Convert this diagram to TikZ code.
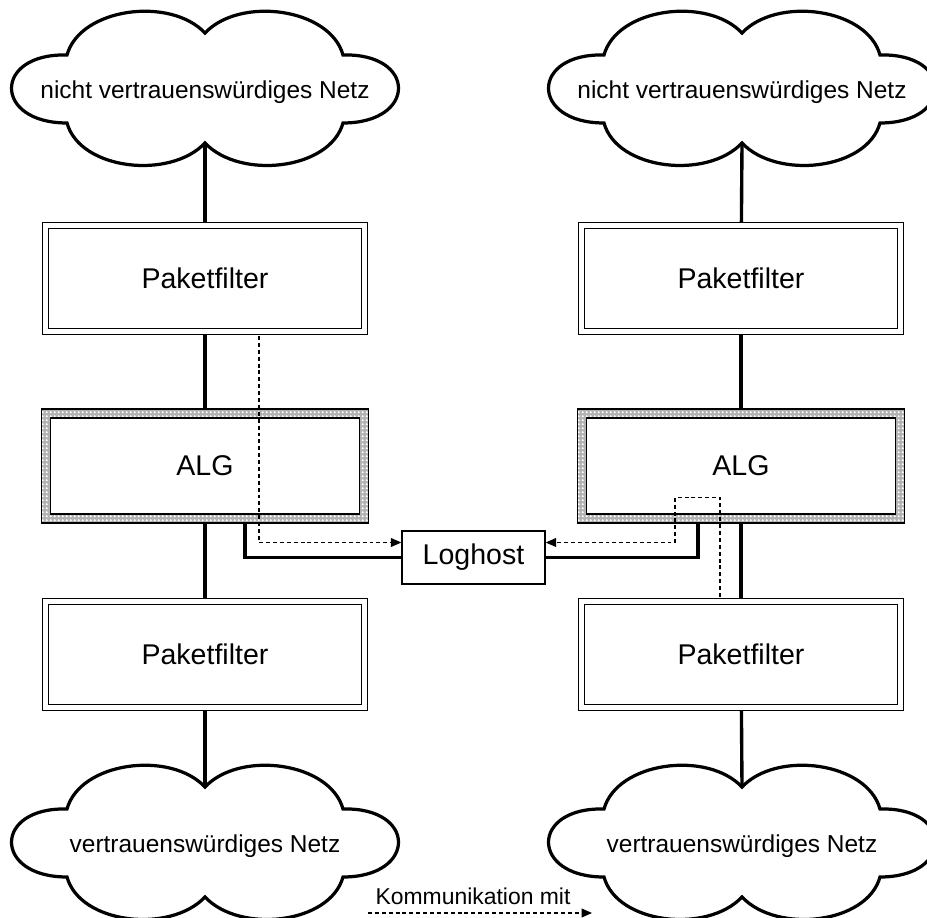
\documentclass[tikz,border=0pt]{standalone}
\usepackage{fontspec}
\setmainfont{Liberation Sans}
\usetikzlibrary{calc,patterns,backgrounds,arrows.meta}

% mesh for the ALG frame
\pgfdeclarepatternformonly{ringmuster}{\pgfpointorigin}{\pgfqpoint{3pt}{3pt}}{\pgfqpoint{3pt}{3pt}}{%
  \pgfpathcircle{\pgfqpoint{1.5pt}{1.5pt}}{0.95pt}%
  \pgfusepath{fill}}

\tikzset{
  filterbox/.style={draw, double, double distance=0.125cm, line width=0.75pt, fill=white,
    minimum width=7.975cm, minimum height=2.65cm, font=\fontsize{20.3}{24}\selectfont},
  algrahmen/.style={draw, line width=0.75pt, minimum width=8.15cm, minimum height=2.85cm,
    preaction={fill=gray!60}, pattern=ringmuster, pattern color=white},
  algkern/.style={draw, line width=0.75pt, fill=white, minimum width=7.7cm, minimum height=2.4cm,
    font=\fontsize{20.3}{24}\selectfont},
  loghostbox/.style={draw, line width=0.9pt, fill=white, minimum width=3.575cm, minimum height=1.325cm,
    font=\fontsize{20.3}{24}\selectfont},
  wolke/.style={draw, line width=2.3pt, fill=white},
  wolketext/.style={font=\fontsize{17.4}{20}\selectfont},
  leitung/.style={line width=2.4pt},
  meldung/.style={line width=0.8pt, dash pattern=on 2.8pt off 2.1pt,
    -{Triangle[length=0.26cm,width=0.22cm]}}
}

% cloud: name, x, y, text
\newcommand{\netzwolke}[4]{%
  \begin{scope}[shift={(#2,#3)}]
    \draw[wolke] (-138,-33) .. controls (-125,-80) and (-35,-92) .. (0,-55)
      .. controls (35,-92) and (125,-80) .. (138,-33)
      .. controls (212,-35) and (212,35) .. (138,35)
      .. controls (125,82) and (35,92) .. (0,55)
      .. controls (-35,92) and (-125,82) .. (-138,35)
      .. controls (-212,35) and (-212,-35) .. (-138,-33) -- cycle;
    \coordinate (#1-n) at (0,-55);
    \coordinate (#1-s) at (0,55);
    \node[wolketext] (#1) at (0,4) {#4};
  \end{scope}}

\begin{document}
\begin{tikzpicture}[x=0.025cm, y=-0.025cm]
    \useasboundingbox (0,0) rectangle (927,918);

    % Clouds
    \netzwolke{netzLo}{205}{88}{nicht vertrauenswürdiges Netz}
    \netzwolke{netzLu}{205}{842}{vertrauenswürdiges Netz}
    \netzwolke{netzRo}{742}{88}{nicht vertrauenswürdiges Netz}
    \netzwolke{netzRu}{742}{842}{vertrauenswürdiges Netz}

    % Left chain
    \node[filterbox] (pfLo) at (205,278.5) {Paketfilter};
    \node[algrahmen] (algL) at (205,466) {};
    \node[algkern] (algLk) at (205,466) {ALG};
    \node[filterbox] (pfLu) at (205,654.5) {Paketfilter};

    % Right chain
    \node[filterbox] (pfRo) at (741,278.5) {Paketfilter};
    \node[algrahmen] (algR) at (741,466) {};
    \node[algkern] (algRk) at (741,466) {ALG};
    \node[filterbox] (pfRu) at (741,654.5) {Paketfilter};

    % Loghost
    \node[loghostbox] (log) at (473.5,557.5) {Loghost};

    % Lines
    \begin{scope}[on background layer]
        \draw[leitung] (netzLo-s) -- (pfLo);
        \draw[leitung] (pfLo) -- (algL);
        \draw[leitung] (algL) -- (pfLu);
        \draw[leitung] (pfLu) -- (netzLu-n);
        \draw[leitung] (netzRo-s) -- (pfRo);
        \draw[leitung] (pfRo) -- (algR);
        \draw[leitung] (algR) -- (pfRu);
        \draw[leitung] (pfRu) -- (netzRu-n);
        \draw[leitung] ($(algL.south)+(40,0)$) |- (log.west);
        \draw[leitung] ($(algR.south)+(-43,0)$) |- (log.east);
    \end{scope}

    % Log messages
    \draw[meldung] ($(pfLo.south)+(54,4)$) |- ($(log.west)+(0,-15)$);
    \draw[meldung] ($(pfRu.north)+(-21,-4)$) |- ($(algR.south)+(-66,-26)$)
        |- ($(log.east)+(0,-15)$);

    % Legend
    \node[font=\fontsize{16.3}{19}\selectfont] (komm) at (473,896) {Kommunikation mit};
    \coordinate (kvon) at (368,913);
    \coordinate (kbis) at (592,913);
    \draw[meldung] (kvon) -- (kbis);
\end{tikzpicture}
\end{document}
